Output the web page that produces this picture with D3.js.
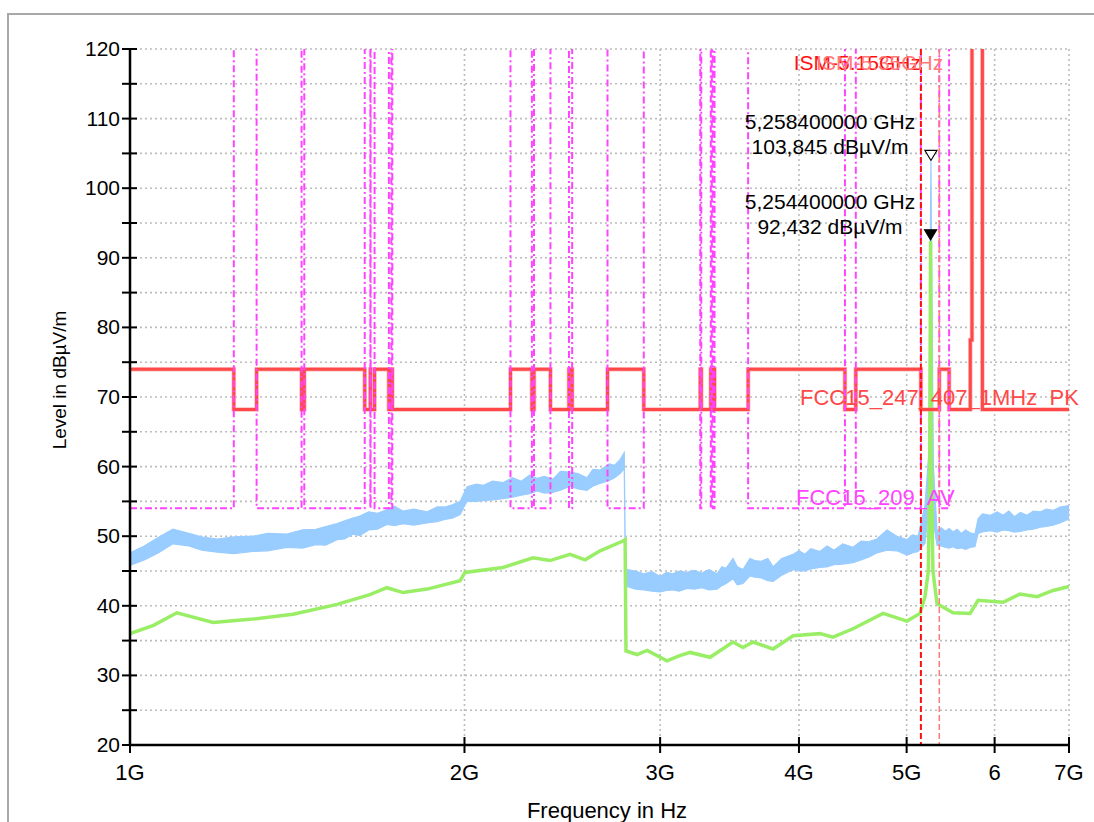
<!DOCTYPE html>
<html>
<head>
<meta charset="utf-8">
<script src="https://cdn.jsdelivr.net/npm/d3@7"></script>
<style>
  body { margin: 0; background: #fff; }
  text { font-family: "Liberation Sans", Arial, sans-serif; }
</style>
</head>
<body>
<div id="chart"></div>
<script>
// ---- data (frequencies in GHz, levels in dBµV/m) ----
const xTickValues = [1, 2, 3, 4, 5, 6, 7];
const xTickLabels = ["1G", "2G", "3G", "4G", "5G", "6", "7G"];
const yTickValues = [20, 30, 40, 50, 60, 70, 80, 90, 100, 110, 120];

// limit lines: restricted band edges
const limitFreq = [1.0, 1.24, 1.3, 1.427, 1.435, 1.6265, 1.6455, 1.6465, 1.66, 1.71, 1.7188, 1.7222,
    2.2, 2.3, 2.31, 2.39, 2.4835, 2.5, 2.69, 2.9, 3.26, 3.267, 3.332, 3.339, 3.3458, 3.358,
    3.6, 4.4, 4.5, 5.15, 5.35, 5.46, 5.705, 5.725, 5.85, 7.0];
const pkLimit = [74, 68.2, 74, 68.2, 74, 68.2, 74, 68.2, 74, 68.2, 74, 68.2,
    74, 68.2, 74, 68.2, 74, 68.2, 74, 68.2, 74, 68.2, 74, 68.2, 74, 68.2,
    74, 68.2, 74, 68.2, 74, 68.2, 78.2, 130, 68.2, 68.2];
const avLimit = [54, 130, 54, 130, 54, 130, 54, 130, 54, 130, 54, 130,
    54, 130, 54, 130, 54, 130, 54, 130, 54, 130, 54, 130, 54, 130,
    54, 130, 54, 130, 54, 130, 130, 130, 130, 130];

// peak trace (band: low / high)
const pkFreq = [1.0, 1.03, 1.06, 1.093, 1.13, 1.16, 1.198, 1.24, 1.29, 1.33, 1.384, 1.43, 1.47, 1.5, 1.536,
    1.56, 1.587, 1.61, 1.64, 1.67, 1.703, 1.73, 1.761, 1.8, 1.851, 1.89, 1.92, 1.95, 1.982,
    2.002, 2.011, 2.05, 2.08, 2.12, 2.166, 2.21, 2.25, 2.29, 2.325, 2.36, 2.403, 2.44, 2.489, 2.53,
    2.578, 2.61, 2.65, 2.7, 2.73, 2.761, 2.785,
    2.792, 2.801, 2.85, 2.9, 2.95, 2.999, 3.04, 3.08, 3.12, 3.172, 3.22, 3.27, 3.32, 3.376, 3.41,
    3.44, 3.489, 3.52, 3.562, 3.614, 3.65, 3.7, 3.75, 3.791, 3.86, 3.952,
    4.0, 4.05, 4.1, 4.178, 4.24, 4.3, 4.38, 4.474, 4.55, 4.62, 4.7, 4.801, 4.9, 5.004, 5.06, 5.12,
    5.194, 5.235, 5.25, 5.2584, 5.266, 5.285,
    5.325, 5.37, 5.42, 5.46, 5.505, 5.55, 5.6, 5.65, 5.702, 5.76, 5.798, 5.85, 5.95, 6.03, 6.107,
    6.18, 6.25, 6.33, 6.417, 6.5, 6.6, 6.68, 6.773, 6.87, 7.0];
const pkLow = [45.8, 46.6, 47.6, 48.9, 48.6, 48.0, 47.7, 47.5, 47.8, 47.9, 48.4, 48.3, 48.8, 48.7, 49.5,
    49.6, 50.3, 50.1, 50.9, 51.0, 51.7, 51.5, 51.8, 51.6, 51.9, 52.1, 52.4, 52.6, 53.1,
    54.5, 55.0, 55.0, 55.1, 55.2, 55.4, 55.6, 55.9, 56.1, 56.5, 56.2, 56.3, 56.6, 57.2, 56.8,
    56.6, 57.2, 57.6, 58.0, 58.4, 59.0, 59.7,
    42.5, 42.8, 42.4, 42.3, 42.1, 42.0, 42.2, 42.3, 42.1, 42.5, 42.4, 42.6, 42.3, 42.4, 42.9,
    43.2, 43.9, 43.0, 43.2, 44.3, 44.1, 44.0, 43.6, 43.5, 44.4, 45.2,
    45.0, 45.0, 45.3, 45.5, 45.6, 45.9, 46.0, 46.2, 46.6, 47.0, 47.6, 48.0, 47.9, 47.3, 47.6, 47.8,
    49.0, 54, 70, 100, 70, 52,
    48.7, 48.6, 48.4, 48.3, 48.5, 48.2, 48.3, 48.1, 48.4, 48.5, 50.4, 50.6, 50.8, 50.6, 50.9,
    50.8, 50.6, 50.7, 50.9, 51.0, 51.3, 51.4, 51.6, 51.9, 52.5];
const pkHigh = [47.6, 48.6, 49.8, 51.0, 50.4, 49.9, 49.6, 49.9, 50.0, 50.4, 50.3, 50.9, 51.0, 51.4, 51.8,
    52.2, 52.6, 52.9, 53.5, 53.3, 53.8, 54.3, 53.6, 53.9, 53.5, 54.2, 54.2, 54.5, 55.0,
    56.5, 57.1, 57.5, 57.3, 57.9, 57.7, 58.4, 57.9, 58.8, 58.3, 58.6, 58.2, 59.3, 59.2, 59.0,
    58.4, 59.6, 59.5, 60.4, 60.2, 61.0, 62.0,
    45.5, 45.2, 45.0, 44.6, 44.9, 44.2, 44.8, 44.6, 45.0, 44.8, 45.1, 44.7, 45.2, 44.6, 45.6,
    45.4, 46.8, 45.6, 45.2, 46.8, 46.5, 46.4, 46.8, 45.6, 46.8, 47.4,
    47.9, 47.4, 48.2, 47.8, 48.6, 48.0, 48.9, 48.4, 49.3, 49.2, 49.6, 50.9, 50.0, 49.5, 50.2, 50.0,
    54.5, 62, 90, 103.85, 90, 60,
    50.8, 51.2, 50.7, 51.1, 50.6, 51.0, 50.4, 50.9, 50.5, 50.3, 52.5, 53.2, 53.0, 53.5, 53.0,
    53.6, 52.8, 53.4, 53.0, 53.6, 53.5, 53.9, 53.7, 54.2, 54.4];

// average trace
const avFreq = [1.0, 1.05, 1.102, 1.188, 1.29, 1.402, 1.536, 1.644, 1.703, 1.761, 1.851, 1.982,
    2.002, 2.166, 2.305, 2.388, 2.489, 2.568, 2.649, 2.778, 2.79,
    2.795, 2.86, 2.92, 3.043, 3.12, 3.192, 3.327, 3.489, 3.562, 3.637, 3.791, 3.952, 4.178, 4.292, 4.474,
    4.762, 5.004, 5.14, 5.194, 5.23, 5.245, 5.2544, 5.262, 5.28, 5.325, 5.505, 5.702, 5.798,
    6.107, 6.324, 6.552, 6.773, 6.971, 7.0];
const avLevel = [36.0, 37.2, 39.0, 37.6, 38.1, 38.8, 40.2, 41.6, 42.6, 41.9, 42.4, 43.6,
    44.8, 45.5, 46.9, 46.5, 47.4, 46.6, 47.9, 49.3, 49.5,
    33.5, 33.0, 33.6, 32.1, 32.8, 33.3, 32.6, 34.8, 34.0, 34.8, 33.8, 35.7, 36.0, 35.5, 36.7,
    38.9, 37.8, 38.9, 41.3, 45, 60, 92.43, 60, 45, 40.3, 39.0, 38.9, 40.8,
    40.5, 41.7, 41.3, 42.2, 42.7, 42.8];

// markers
const markerFreq = [5.2584, 5.2544];
const markerLevel = [103.845, 92.432];
const markerText = [["5,258400000 GHz", "103,845 dBµV/m"], ["5,254400000 GHz", "92,432 dBµV/m"]];

// ISM lines
const ismFreq = [5.15, 5.35];
const ismLabel = ["ISM-5.15GHz", "ISM-5.35GHz"];

// ---- drawing ----
const W = 1094, H = 822;
const margin = { top: 49, right: 25, bottom: 77, left: 130 };
const width = 1069 - margin.left, height = 745 - margin.top;

const svg = d3.select("#chart").append("svg")
    .attr("width", W)
    .attr("height", H);

// outer frame
svg.append("path")
    .attr("d", "M8," + H + "V14H" + W)
    .attr("fill", "none")
    .attr("stroke", "#a8a8a8")
    .attr("stroke-width", 2);

const g = svg.append("g")
    .attr("transform", "translate(" + margin.left + "," + margin.top + ")");

const x = d3.scaleLog().domain([1, 7]).range([0, width]);
const y = d3.scaleLinear().domain([20, 120]).range([height, 0]);

g.append("clipPath").attr("id", "clip")
    .append("rect").attr("x", 0).attr("y", 0).attr("width", width).attr("height", height);

// grid
const gridY = d3.range(25, 121, 5);
g.append("g").selectAll("line").data(gridY).enter().append("line")
    .attr("x1", 0).attr("x2", width)
    .attr("y1", d => y(d)).attr("y2", d => y(d))
    .attr("stroke", "#bcbcbc").attr("stroke-width", 1.6).attr("stroke-dasharray", "2,3");
g.append("g").selectAll("line").data(xTickValues.slice(1)).enter().append("line")
    .attr("x1", d => x(d)).attr("x2", d => x(d))
    .attr("y1", 0).attr("y2", height)
    .attr("stroke", "#bcbcbc").attr("stroke-width", 1.6).attr("stroke-dasharray", "2,3");

const plot = g.append("g").attr("clip-path", "url(#clip)");

// peak trace
const pkData = pkFreq.map((f, i) => ({ f: f, lo: pkLow[i], hi: pkHigh[i] }));
plot.append("path")
    .datum(pkData)
    .attr("d", d3.area().x(d => x(d.f)).y0(d => y(d.lo)).y1(d => y(d.hi)))
    .attr("fill", "#99ccff")
    .attr("stroke", "#99ccff")
    .attr("stroke-width", 1.2);

// average trace
const avData = avFreq.map((f, i) => ({ f: f, v: avLevel[i] }));
plot.append("path")
    .datum(avData)
    .attr("d", d3.line().x(d => x(d.f)).y(d => y(d.v)))
    .attr("fill", "none")
    .attr("stroke", "#99ee66")
    .attr("stroke-width", 3.5);

// limit lines
const pkLimData = limitFreq.map((f, i) => ({ f: f, v: pkLimit[i] }));
const avLimData = limitFreq.map((f, i) => ({ f: f, v: avLimit[i] }));
const stepLine = d3.line().x(d => x(d.f)).y(d => y(d.v)).curve(d3.curveStepAfter);

plot.append("path")
    .datum(pkLimData)
    .attr("d", stepLine)
    .attr("fill", "none")
    .attr("stroke", "#ff9090")
    .attr("stroke-width", 4.5)
    .attr("opacity", 0.6);
plot.append("path")
    .datum(pkLimData)
    .attr("d", stepLine)
    .attr("fill", "none")
    .attr("stroke", "#ff4848")
    .attr("stroke-width", 3);

plot.append("path")
    .datum(avLimData)
    .attr("d", stepLine)
    .attr("fill", "none")
    .attr("stroke", "#ff44ff")
    .attr("stroke-width", 2)
    .attr("stroke-dasharray", "7,3,2,3");

// ISM lines
const ismColor = ["#ff1010", "#ff7a7a"];
ismFreq.forEach((f, i) => {
    plot.append("line")
        .attr("x1", x(f)).attr("x2", x(f))
        .attr("y1", 0).attr("y2", height)
        .attr("stroke", ismColor[i])
        .attr("stroke-width", i === 0 ? 2 : 1.5)
        .attr("stroke-dasharray", "6,3");
});
ismFreq.forEach((f, i) => {
    g.append("text")
        .attr("x", x(f) + (i === 0 ? 0 : 4))
        .attr("y", 21)
        .attr("text-anchor", "end")
        .attr("font-size", 21)
        .attr("fill", ismColor[i])
        .text(ismLabel[i]);
});

// limit labels
g.append("text")
    .attr("x", 800 - margin.left)
    .attr("y", 405 - margin.top)
    .attr("font-size", 22)
    .attr("fill", "#ff4848")
    .text("FCC15_247_407_1MHz_PK");
g.append("text")
    .attr("x", 796 - margin.left)
    .attr("y", 505 - margin.top)
    .attr("font-size", 22)
    .attr("fill", "#ff44ff")
    .text("FCC15_209_AV");

// markers
markerFreq.forEach((f, i) => {
    const mx = x(f), my = y(markerLevel[i]);
    g.append("path")
        .attr("d", "M" + (mx - 6) + "," + (my - 11) + "H" + (mx + 6) + "L" + mx + "," + (my - 1) + "Z")
        .attr("fill", i === 0 ? "#fff" : "#000")
        .attr("stroke", "#000")
        .attr("stroke-width", 1.2);
    g.append("text")
        .attr("x", 830 - margin.left)
        .attr("y", my - 32)
        .attr("text-anchor", "middle")
        .attr("font-size", 21)
        .attr("fill", "#000")
        .text(markerText[i][0]);
    g.append("text")
        .attr("x", 830 - margin.left)
        .attr("y", my - 7)
        .attr("text-anchor", "middle")
        .attr("font-size", 21)
        .attr("fill", "#000")
        .text(markerText[i][1]);
});

// axes
g.append("line").attr("x1", 0).attr("x2", 0).attr("y1", 0).attr("y2", height)
    .attr("stroke", "#000").attr("stroke-width", 2.5);
g.append("line").attr("x1", 0).attr("x2", width).attr("y1", height).attr("y2", height)
    .attr("stroke", "#000").attr("stroke-width", 2.5);

g.append("g").selectAll("line").data(gridY.concat([20])).enter().append("line")
    .attr("x1", -8).attr("x2", 7)
    .attr("y1", d => y(d)).attr("y2", d => y(d))
    .attr("stroke", "#000").attr("stroke-width", 2);
g.append("g").selectAll("text").data(yTickValues).enter().append("text")
    .attr("x", -10)
    .attr("y", d => y(d) + 7)
    .attr("text-anchor", "end")
    .attr("font-size", 21)
    .text(d => d);

g.append("g").selectAll("line").data(xTickValues).enter().append("line")
    .attr("x1", d => x(d)).attr("x2", d => x(d))
    .attr("y1", height - 8).attr("y2", height + 8)
    .attr("stroke", "#000").attr("stroke-width", 2);
g.append("g").selectAll("text").data(xTickValues).enter().append("text")
    .attr("x", d => x(d))
    .attr("y", height + 35)
    .attr("text-anchor", "middle")
    .attr("font-size", 22)
    .text((d, i) => xTickLabels[i]);

// axis titles
svg.append("text")
    .attr("transform", "translate(66,380) rotate(-90)")
    .attr("text-anchor", "middle")
    .attr("font-size", 19)
    .text("Level in dBµV/m");
svg.append("text")
    .attr("x", 607)
    .attr("y", 818)
    .attr("text-anchor", "middle")
    .attr("font-size", 22)
    .text("Frequency in Hz");
</script>
</body>
</html>
